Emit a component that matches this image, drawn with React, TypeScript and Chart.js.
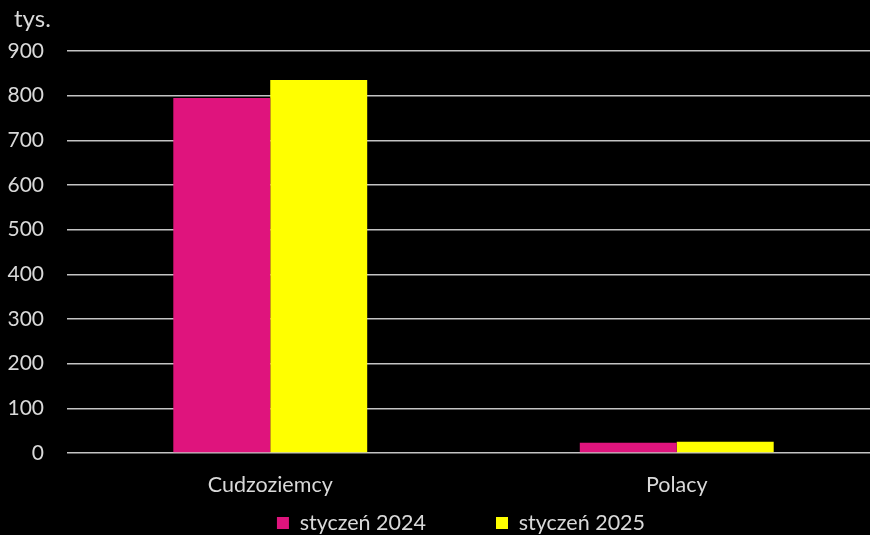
import React, { useEffect, useRef } from "react";
import { Chart, registerables } from "chart.js";

Chart.register(...registerables);

const categories = ["Cudzoziemcy", "Polacy"];
const series2024 = [795, 23];
const series2025 = [835, 25];
const seriesLabels = ["styczeń 2024", "styczeń 2025"];
const yTicks = [0, 100, 200, 300, 400, 500, 600, 700, 800, 900];
const unitLabel = "tys.";

const FONT = "Lato, 'Open Sans', sans-serif";
const TEXT = "#D9D9D9";
const LEGEND_FONT = 21.5;
const LEGEND_PAD = 70;
const LEGEND_HEIGHT = 27;
const LEGEND_CENTER_Y = 523;
const LEGEND_SHIFT_X = 21;

const legendTweak = {
  id: "legendTweak",
  afterInit(chart: any) {
    const lg = chart.legend;
    if (!lg) return;
    const origFit = lg.fit.bind(lg);
    lg.fit = function () {
      origFit();
      if (this.isHorizontal()) this.height = LEGEND_HEIGHT;
    };
    const origDraw = lg.draw.bind(lg);
    lg.draw = function () {
      const top = this.top, left = this.left, right = this.right;
      this.top = LEGEND_CENTER_Y - LEGEND_PAD - LEGEND_FONT / 2;
      this.left = left + LEGEND_SHIFT_X;
      this.right = right + LEGEND_SHIFT_X;
      origDraw();
      this.top = top;
      this.left = left;
      this.right = right;
    };
  },
};

export default function App() {
  const ref = useRef<HTMLCanvasElement | null>(null);
  useEffect(() => {
    if (!ref.current) return;
    const chart = new Chart(ref.current, {
      type: "bar",
      data: {
        labels: categories,
        datasets: [
          { label: seriesLabels[0], data: series2024, backgroundColor: "#DF147D", categoryPercentage: 0.477, barPercentage: 1 },
          { label: seriesLabels[1], data: series2025, backgroundColor: "#FFFF00", categoryPercentage: 0.477, barPercentage: 1 },
        ],
      },
      plugins: [legendTweak],
      options: {
        animation: false,
        responsive: false,
        maintainAspectRatio: false,
        layout: { padding: { top: 51, left: 0, right: 0, bottom: 0 } },
        plugins: {
          tooltip: { enabled: false },
          legend: {
            position: "bottom",
            labels: {
              color: TEXT,
              font: { family: FONT, size: LEGEND_FONT },
              boxWidth: 12,
              boxHeight: 12,
              padding: LEGEND_PAD,
            },
          },
        },
        scales: {
          x: {
            grid: { display: false, drawTicks: false },
            border: { display: false },
            ticks: { color: TEXT, font: { family: FONT, size: 21.5 }, padding: 19 },
            afterFit: (s: any) => { s.height = 55; },
          },
          y: {
            min: 0,
            max: 900,
            afterBuildTicks: (s: any) => { s.ticks = yTicks.map((v) => ({ value: v })); },
            grid: { color: "#C4C4C4", lineWidth: 1.5, drawTicks: false },
            border: { display: false },
            ticks: { color: TEXT, font: { family: FONT, size: 21 }, padding: 23 },
            afterFit: (s: any) => { s.width = 67; },
          },
        },
      },
    });
    return () => chart.destroy();
  }, []);
  return (
    <div style={{ position: "fixed", left: 0, top: 0, width: 870, height: 535, overflow: "hidden", background: "#000" }}>
      <canvas ref={ref} width={880} height={535} style={{ position: "absolute", left: 0, top: 0 }} />
      <div style={{ position: "absolute", left: 14, top: 3, color: TEXT, fontFamily: FONT, fontSize: 24 }}>{unitLabel}</div>
    </div>
  );
}
